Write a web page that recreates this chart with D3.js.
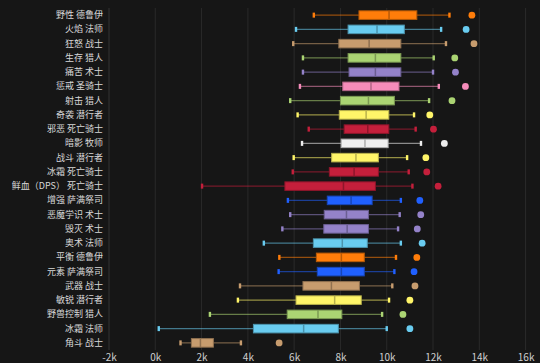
<!DOCTYPE html>
<html>
<head>
<meta charset="utf-8">
<script src="https://cdn.jsdelivr.net/npm/d3@7"></script>
<style>
  body { margin: 0; background: #161616; }
  svg { display: block; font-family: "Noto Sans CJK SC", "Noto Sans", sans-serif; }
</style>
</head>
<body>
<script>
//Declare consts
const width = 540;
const height = 363;

//Data (DPS per spec)
const specs = ["野性 德鲁伊", "火焰 法师", "狂怒 战士", "生存 猎人", "痛苦 术士", "惩戒 圣骑士",
  "射击 猎人", "奇袭 潜行者", "邪恶 死亡骑士", "暗影 牧师", "战斗 潜行者", "冰霜 死亡骑士",
  "鲜血（DPS） 死亡骑士", "增强 萨满祭司", "恶魔学识 术士", "毁灭 术士", "奥术 法师", "平衡 德鲁伊",
  "元素 萨满祭司", "武器 战士", "敏锐 潜行者", "野兽控制 猎人", "冰霜 法师", "角斗 战士"];
const colors = ["#FF7D0A", "#69CCF0", "#C79C6E", "#ABD473", "#9482C9", "#F58CBA",
  "#ABD473", "#FFF569", "#C41F3B", "#EEEEEE", "#FFF569", "#C41F3B",
  "#C41F3B", "#2060FF", "#9482C9", "#9482C9", "#69CCF0", "#FF7D0A",
  "#2060FF", "#C79C6E", "#FFF569", "#ABD473", "#69CCF0", "#C79C6E"];
const wMin = [6850, 6080, 5960, 6380, 6380, 6250, 5830, 6150, 6630, 6340, 5980, 5940,
  2020, 5730, 5830, 5490, 4690, 5360, 5330, 3660, 3570, 2360, 150, 1090];
const q1 = [8800, 8330, 7930, 8330, 8370, 8100, 8000, 7950, 8160, 8030, 7620, 7520,
  5600, 7430, 7300, 7280, 6830, 6960, 7000, 6380, 6080, 5700, 4240, 1560];
const median = [10100, 9580, 9240, 9510, 9510, 9320, 9210, 9110, 9180, 9060, 8670, 8590,
  8130, 8460, 8260, 8290, 8080, 8040, 8040, 7610, 7750, 7030, 6410, 1950];
const q3 = [11300, 10760, 10610, 10610, 10610, 10530, 10330, 10090, 10090, 10060, 9640, 9640,
  9510, 9370, 9210, 9210, 9160, 9030, 9030, 8820, 8900, 8060, 7910, 2510];
const wMax = [12710, 12350, 12560, 12030, 12000, 12250, 11830, 11180, 11250, 11480, 10880, 10950,
  11110, 10610, 10560, 10490, 10610, 10400, 10330, 10240, 10100, 9800, 10000, 3700];
const outlier = [13680, 13430, 13770, 12940, 12970, 13400, 12820, 11860, 12020, 12490, 11690, 11730,
  12220, 11430, 11470, 11320, 11530, 11300, 11180, 11220, 11000, 10700, 11000, 5350];
const tickValues = [-2000, 0, 2000, 4000, 6000, 8000, 10000, 12000, 14000, 16000];

const rows = specs.map((s, i) => ({
  spec: s, color: colors[i], lo: wMin[i], q1: q1[i], med: median[i],
  q3: q3[i], hi: wMax[i], out: outlier[i]
}));

//Scales
const xScale = d3.scaleLinear()
  .domain([-2000, 16000])
  .range([109, 525.6]);

const yScale = d3.scaleBand()
  .domain(specs)
  .range([8, 350]);

const boxH = yScale.bandwidth() * 0.6;
const cy = d => yScale(d.spec) + yScale.bandwidth() / 2;

//SVG
const svg = d3.select("body")
  .append("svg")
  .attr("width", width)
  .attr("height", height);

svg.append("rect")
  .attr("width", width)
  .attr("height", height)
  .attr("fill", "#161616");

//Grid
svg.append("g")
  .selectAll("line")
  .data(tickValues.slice(1))
  .join("line")
  .attr("x1", d => xScale(d))
  .attr("x2", d => xScale(d))
  .attr("y1", 8)
  .attr("y2", 350)
  .attr("stroke", "#2a2a2a")
  .attr("stroke-width", 1);

svg.append("line")
  .attr("x1", xScale(-2000))
  .attr("x2", xScale(-2000))
  .attr("y1", 8)
  .attr("y2", 350)
  .attr("stroke", "#333")
  .attr("stroke-width", 1);

//Boxes
const g = svg.append("g")
  .selectAll("g")
  .data(rows)
  .join("g");

g.append("line")
  .attr("x1", d => xScale(d.lo))
  .attr("x2", d => xScale(d.hi))
  .attr("y1", cy)
  .attr("y2", cy)
  .attr("stroke", d => d.color)
  .attr("stroke-opacity", 0.55)
  .attr("stroke-width", 1.3);

g.selectAll("rect.cap")
  .data(d => [d.lo, d.hi].map(v => ({v: v, d: d})))
  .join("rect")
  .attr("class", "cap")
  .attr("x", e => xScale(e.v) - 1.2)
  .attr("y", e => cy(e.d) - 2.5)
  .attr("width", 2.4)
  .attr("height", 5)
  .attr("fill", e => e.d.color);

g.append("rect")
  .attr("x", d => xScale(d.q1))
  .attr("y", d => cy(d) - boxH / 2)
  .attr("width", d => xScale(d.q3) - xScale(d.q1))
  .attr("height", boxH)
  .attr("fill", d => d.color)
  .attr("stroke", d => d3.color(d.color).darker(0.9))
  .attr("stroke-width", 1);

g.append("line")
  .attr("x1", d => xScale(d.med))
  .attr("x2", d => xScale(d.med))
  .attr("y1", d => cy(d) - boxH / 2)
  .attr("y2", d => cy(d) + boxH / 2)
  .attr("stroke", d => d3.color(d.color).darker(0.9))
  .attr("stroke-width", 1.5);

g.append("circle")
  .attr("cx", d => xScale(d.out))
  .attr("cy", cy)
  .attr("r", 3.4)
  .attr("fill", d => d.color);

//Axes
const leftAxis = d3.axisLeft(yScale).tickSize(0).tickPadding(6);
svg.append("g")
  .attr("transform", "translate(" + xScale(-2000) + ",0)")
  .call(leftAxis)
  .call(a => a.select(".domain").remove())
  .selectAll("text")
  .attr("fill", "#d8d8d8")
  .style("font-size", "9px")
  .style("font-family", "'Noto Sans CJK SC', sans-serif");

const bottomAxis = d3.axisBottom(xScale)
  .tickValues(tickValues)
  .tickFormat(d => d / 1000 + "k")
  .tickSize(0)
  .tickPadding(4);
svg.append("g")
  .attr("transform", "translate(0,350)")
  .call(bottomAxis)
  .call(a => a.select(".domain").remove())
  .selectAll("text")
  .attr("fill", "#cfcfcf")
  .style("font-size", "10px")
  .style("font-family", "'Noto Sans CJK SC', sans-serif");
</script>
</body>
</html>
